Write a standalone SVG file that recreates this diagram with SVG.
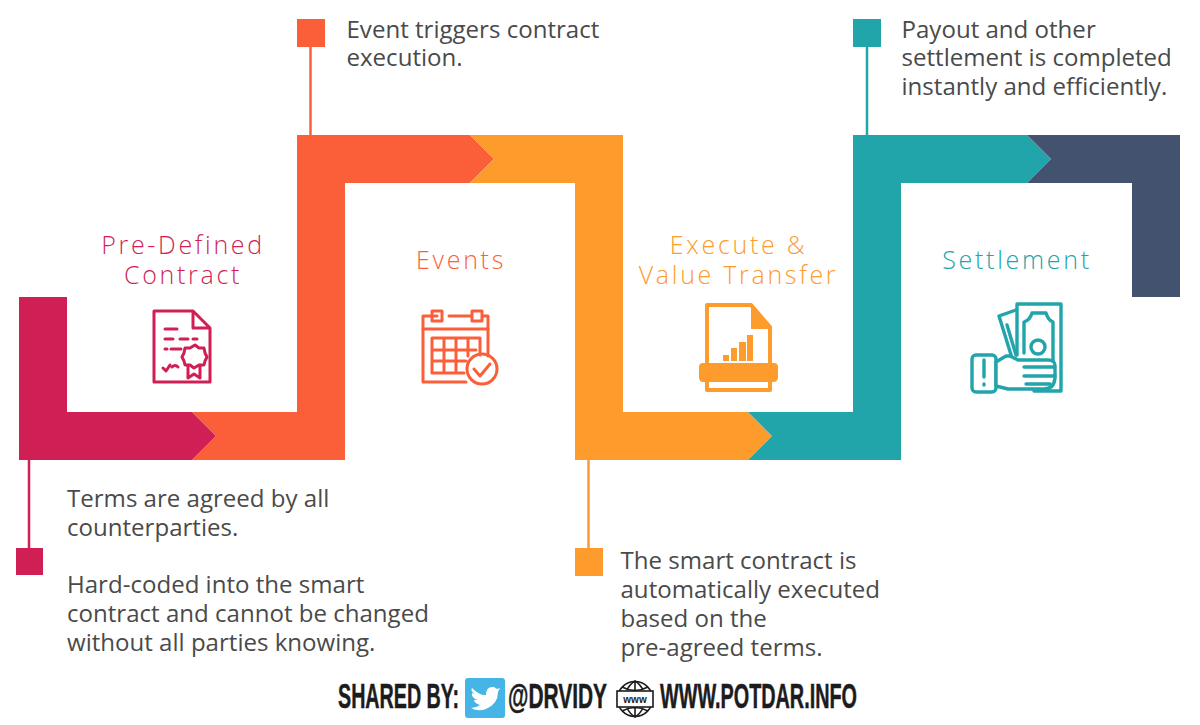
<svg xmlns="http://www.w3.org/2000/svg" width="1200" height="725" viewBox="0 0 1200 725">
<style>
text{font-family:"Open Sans","Liberation Sans",sans-serif}
.b{font-size:24.070px;fill:#4a4a4a}
.h{font-size:25px;font-weight:300;letter-spacing:2.700px;text-anchor:middle}
.f{font-family:"Liberation Sans Narrow","Liberation Sans",sans-serif;font-weight:700;font-size:35px;fill:#1c1c1c;stroke:#1c1c1c;stroke-width:.5}
.i{fill:none;stroke-width:3;stroke-linejoin:round;stroke-linecap:round}
.c{stroke:#d01f55}.r{stroke:#fb5f3a}.o{stroke:#fd9b2d}.t{stroke:#22a4ab}
</style>
<rect width="1200" height="725" fill="#fff"/>
<g id="connectors">
<path d="M29 460V548" stroke="#d01f55" stroke-width="2.500"/>
<path d="M310.500 46V135" stroke="#fb5f3a" stroke-width="2.500"/>
<path d="M588.500 460V548" stroke="#fd9b2d" stroke-width="2.500"/>
<path d="M867 46V135" stroke="#22a4ab" stroke-width="2.500"/>
<path d="M192 412H297V135H470L494 159L470 183H345V460H192L216 436Z" fill="#fb5f3a"/>
<path d="M470 135H623V412H748L772 436L748 460H575V183H470L494 159Z" fill="#fd9b2d"/>
<path d="M748 412H853V135H1027L1051 159L1027 183H901V460H748L772 436Z" fill="#22a4ab"/>
<path d="M1027 135H1180V297H1132V183H1027L1051 159Z" fill="#42526f"/>
<path d="M19 297H67V412H192L216 436L192 460H19Z" fill="#d01f55"/>
</g>
<g id="node-contract">
<rect x="16" y="548" width="27" height="27" fill="#d01f55"/>
<text class="h" x="183" y="254" fill="#d01f55">Pre-Defined</text>
<text class="h" x="183" y="284" fill="#d01f55">Contract</text>
<g class="i c">
<path d="M193 311H154V382H210V328L193 311V328H210"/>
<path d="M165 329H177M165 339H173M180 339H188M193 339H197M165 349H167M171 349H181M163 368L166 371L170 365M172 367Q175 364 178 367"/>
<path d="M195 345L199 348L204 348L205 353L207 357L205 361L204 365L199 365L194 368L190 365L185 365L184 361L182 357L184 353L185 348L190 348Z"/>
<path d="M188 366V378L194 374L200 378V366"/>
</g>
<text class="b"><tspan x="67" y="507">Terms are agreed by all</tspan><tspan x="67" y="536">counterparties.</tspan><tspan x="67" y="593">Hard-coded into the smart</tspan><tspan x="67" y="622">contract and cannot be changed</tspan><tspan x="67" y="651">without all parties knowing.</tspan></text>
</g>
<g id="node-events">
<rect x="297" y="19" width="28" height="28" fill="#fb5f3a"/>
<text class="h" x="461" y="269" fill="#fb5f3a">Events</text>
<g class="i r">
<path d="M466 382H423V316H437M449 316H471M483 316H488V356"/>
<path d="M423 329H488"/>
<rect x="432" y="311" width="10" height="10"/>
<rect x="472" y="311" width="10" height="10"/>
<path d="M432 338H480V355M432 338V373H464M444 338V373M456 338V373M468 338V356M432 350H476M432 361H466"/>
<circle cx="482" cy="369" r="15"/>
<path d="M474 369L480 376L490 364"/>
</g>
<text class="b"><tspan x="346.500" y="38">Event triggers contract</tspan><tspan x="346.500" y="66">execution.</tspan></text>
</g>
<g id="node-execute">
<rect x="575" y="548" width="28" height="28" fill="#fd9b2d"/>
<text class="h" x="738.500" y="254" fill="#fd9b2d">Execute &amp;</text>
<text class="h" x="738.500" y="284" fill="#fd9b2d">Value Transfer</text>
<path d="M707 365V305H751L770 327V365M707 380V390H770V380" fill="none" stroke="#fd9b2d" stroke-width="4" stroke-linejoin="round"/>
<path d="M751 305L770 327V329H751Z" fill="#fd9b2d"/>
<path d="M723 355h6v6h-6zM731 348h6v13h-6zM739 342h7v19h-7zM747 335h6v26h-6zM703 363H774Q778 363 778 367V377Q778 382 773 382H703Q699 382 699 377V367Q699 363 703 363Z" fill="#fd9b2d"/>
<text class="b"><tspan x="620.500" y="569">The smart contract is</tspan><tspan x="620.500" y="598">automatically executed</tspan><tspan x="620.500" y="627">based on the</tspan><tspan x="620.500" y="656">pre-agreed terms.</tspan></text>
</g>
<g id="node-settlement">
<rect x="853" y="19" width="28" height="28" fill="#22a4ab"/>
<text class="h" x="1017" y="269" fill="#22a4ab">Settlement</text>
<g class="i t" style="stroke-width:3.400">
<path d="M1017 355V304H1061V391H1034"/>
<path d="M1024 353V322Q1030 320 1032 313H1046Q1048 320 1053 322V378"/>
<circle cx="1038" cy="347" r="7"/>
<path d="M1016 310L999 316L1012 358M1007 325L1016 355"/>
<rect x="972" y="355" width="24" height="37" rx="4"/>
<path d="M984 360V377M984 384V385"/>
<path d="M996 362L1006 356L1010 356L1018 360H1048Q1056 360 1055 368V378Q1054 389 1044 389H1008L996 386Z" fill="#fff"/>
<path d="M1024 367H1054M1024 376H1055M1026 384H1050"/>
</g>
<text class="b"><tspan x="901.500" y="38">Payout and other</tspan><tspan x="901.500" y="66">settlement is completed</tspan><tspan x="901.500" y="95">instantly and efficiently.</tspan></text>
</g>
<g id="footer">
<text class="f" x="338" y="708" textLength="121" lengthAdjust="spacingAndGlyphs">SHARED BY:</text>
<rect x="465" y="678" width="40" height="40" rx="3" fill="#45b4e6"/>
<path d="M472 688Q480 696 486 695Q486 686 494 687L497 689L500 688L498 692Q498 704 486 709Q478 712 471 708Q476 708 480 705Q474 703 474 700H477Q471 697 472 693L475 694Q470 691 472 688Z" fill="#fff"/>
<text class="f" x="508" y="708" textLength="99" lengthAdjust="spacingAndGlyphs">@DRVIDY</text>
<g fill="none" stroke="#1c1c1c" stroke-width="1.600">
<circle cx="635" cy="699" r="17.500"/>
<path d="M635 681V690M635 708V717M622 687Q635 694 648 687M622 711Q635 704 648 711M627 690Q630 684 635 681Q640 684 643 690M627 708Q630 714 635 717Q640 714 643 708"/>
<rect x="617" y="691" width="36" height="16" fill="#fff"/>
</g>
<text x="635" y="703" text-anchor="middle" style="font-family:'Liberation Sans',sans-serif;font-size:10px;font-weight:700;fill:#1c1c1c">www</text>
<text class="f" x="660" y="708" textLength="197" lengthAdjust="spacingAndGlyphs">WWW.POTDAR.INFO</text>
</g>
</svg>
